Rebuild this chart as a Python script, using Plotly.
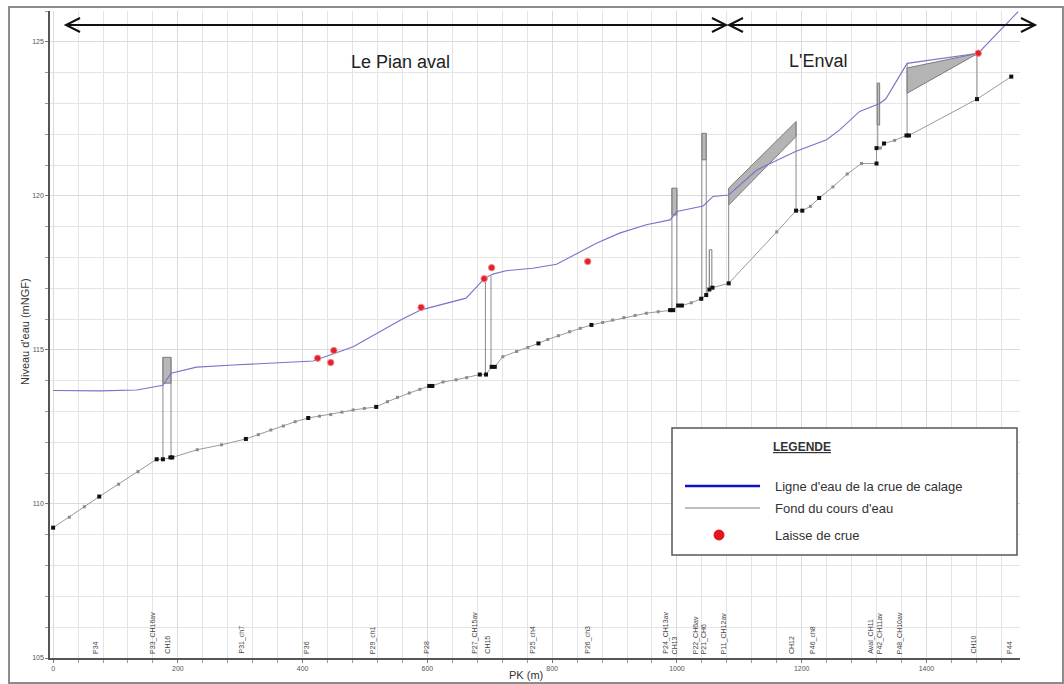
import plotly.graph_objects as go

# ---------------- data ----------------
bed_pk = [0, 26, 50, 74, 105, 136, 166, 176, 188, 191, 231, 270, 309, 329, 349, 369, 388, 409,
          427, 445, 463, 481, 499, 518, 536, 552, 571, 588, 603, 608, 625, 646, 663, 684, 694,
          703, 708, 721, 743, 761, 778, 793, 810, 828, 845, 863, 881, 897, 915, 933, 951, 970,
          989, 994, 1002, 1008, 1023, 1039, 1047, 1052, 1057, 1083, 1160, 1191, 1201, 1214,
          1228, 1250, 1273, 1296, 1320, 1320, 1326, 1332, 1349, 1368, 1372, 1481, 1536]
bed_z = [109.23, 109.57, 109.91, 110.24, 110.64, 111.05, 111.45, 111.45, 111.51, 111.51, 111.76,
         111.92, 112.11, 112.25, 112.40, 112.53, 112.67, 112.79, 112.85, 112.90, 112.98, 113.05,
         113.10, 113.15, 113.32, 113.46, 113.60, 113.72, 113.83, 113.83, 113.96, 114.03, 114.10,
         114.20, 114.20, 114.45, 114.45, 114.78, 114.95, 115.08, 115.21, 115.34, 115.46, 115.59,
         115.70, 115.81, 115.89, 115.97, 116.05, 116.12, 116.19, 116.24, 116.29, 116.29, 116.44,
         116.44, 116.53, 116.66, 116.78, 116.96, 117.02, 117.16, 118.83, 119.52, 119.52, 119.66,
         119.93, 120.29, 120.71, 121.05, 121.05, 121.55, 121.55, 121.70, 121.80, 121.96, 121.96,
         123.14, 123.87]
bed_profile = [1, 0, 0, 1, 0, 0, 1, 1, 1, 1, 0, 0, 1, 0, 0, 0, 0, 1,
               0, 0, 0, 0, 0, 1, 0, 0, 0, 0, 1, 1, 0, 0, 0, 1, 1,
               1, 1, 0, 0, 0, 1, 0, 0, 0, 0, 1, 0, 0, 0, 0, 0, 0,
               1, 1, 1, 1, 0, 1, 1, 1, 1, 1, 0, 1, 1, 0,
               1, 0, 0, 0, 1, 1, 0, 1, 0, 1, 1, 1, 1]

water_pk = [0, 75, 134, 176, 189, 230, 289, 358, 417, 481, 529, 560, 590, 620, 662, 692, 705,
            726, 769, 807, 833, 871, 908, 951, 989, 1000, 1042, 1050, 1058, 1083, 1128, 1191,
            1240, 1261, 1293, 1325, 1335, 1369, 1483, 1547]
water_z = [113.68, 113.67, 113.70, 113.85, 114.24, 114.44, 114.51, 114.57, 114.64, 115.10,
           115.65, 116.00, 116.30, 116.46, 116.68, 117.33, 117.46, 117.57, 117.65, 117.78,
           118.05, 118.46, 118.79, 119.06, 119.22, 119.49, 119.67, 119.81, 119.98, 120.03,
           120.84, 121.45, 121.82, 122.14, 122.74, 123.00, 123.15, 124.30, 124.63, 125.98]

laisse_pk = [424, 445, 450, 590, 691, 703, 857, 1483]
laisse_z = [114.73, 114.59, 114.98, 116.38, 117.31, 117.67, 117.87, 124.63]

# structures: vertical lines (pk, bottom, top)
vert_pk = [176, 189, 693, 702, 992, 1000, 1040, 1047, 1052, 1083, 1191, 1322, 1369, 1481]
vert_lo = [111.45, 111.51, 114.20, 114.45, 116.29, 116.44, 116.66, 116.78, 116.96, 117.16,
           119.52, 121.55, 121.96, 123.14]
vert_hi = [114.76, 114.76, 117.30, 117.40, 120.25, 120.25, 122.03, 122.03, 118.25, 120.25,
           122.41, 123.66, 124.30, 124.65]

# structures: boxes (pk0, pk1, z0, z1)
box_pk0 = [176, 992, 1040, 1052, 1321]
box_pk1 = [189, 1000, 1047, 1056, 1325]
box_z0 = [113.92, 119.38, 121.17, 117.05, 122.30]
box_z1 = [114.76, 120.25, 122.03, 118.25, 123.66]
box_fill = ["#b8b8b8", "#b8b8b8", "#b8b8b8", "#ffffff", "#d0d0d0"]

# structures: sloping bands
band1_pk = [1083, 1191, 1191, 1083]
band1_z = [120.25, 122.41, 121.93, 119.70]
band2_pk = [1369, 1483, 1369]
band2_z = [124.15, 124.63, 123.33]

label_pk = [68, 160, 182, 302, 406, 513, 598, 676, 695, 769, 857, 982, 996, 1031, 1044, 1076,
            1183, 1218, 1310, 1326, 1358, 1474, 1533]
label_txt = ["P34", "P33_CH16av", "CH16", "P31_ch7", "P36", "P29_ch1", "P28", "P27_CH15av",
             "CH15", "P25_ch4", "P26_ch3", "P24_CH13av", "CH13", "P22_CH6av", "P21_CH6",
             "P11_CH12av", "CH12", "P46_ch8", "Aval_CH11", "P42_CH11av", "P48_CH10av",
             "CH10", "P44"]

# ---------------- figure ----------------
FONT = "Arial, Liberation Sans, sans-serif"
fig = go.Figure()

for a, b, c, d, f in zip(box_pk0, box_pk1, box_z0, box_z1, box_fill):
    fig.add_trace(go.Scatter(x=[a, b, b, a, a], y=[c, c, d, d, c], mode="lines",
                             fill="toself", fillcolor=f, line=dict(color="#7a7a7a", width=1),
                             hoverinfo="skip", showlegend=False))
for bx, bz in ((band1_pk, band1_z), (band2_pk, band2_z)):
    fig.add_trace(go.Scatter(x=bx + [bx[0]], y=bz + [bz[0]], mode="lines", fill="toself",
                             fillcolor="#b4b4b4", line=dict(color="#7a7a7a", width=1),
                             hoverinfo="skip", showlegend=False))

vx, vy = [], []
for p, lo, hi in zip(vert_pk, vert_lo, vert_hi):
    vx += [p, p, None]
    vy += [lo, hi, None]
fig.add_trace(go.Scatter(x=vx, y=vy, mode="lines", line=dict(color="#8a8a8a", width=1),
                         hoverinfo="skip", showlegend=False))

fig.add_trace(go.Scatter(x=bed_pk, y=bed_z, mode="lines+markers",
                         line=dict(color="#9a9a9a", width=1),
                         marker=dict(symbol="square", size=3, color="#8c8c8c"),
                         name="Fond du cours d'eau", showlegend=False))
fig.add_trace(go.Scatter(x=[p for p, f in zip(bed_pk, bed_profile) if f],
                         y=[z for z, f in zip(bed_z, bed_profile) if f],
                         mode="markers", marker=dict(symbol="square", size=4, color="#111111"),
                         showlegend=False, hoverinfo="skip"))

fig.add_trace(go.Scatter(x=water_pk, y=water_z, mode="lines",
                         line=dict(color="#7474cc", width=1.1),
                         name="Ligne d'eau de la crue de calage", showlegend=False))

fig.add_trace(go.Scatter(x=laisse_pk, y=laisse_z, mode="markers",
                         marker=dict(size=6.5, color="#e0222c", line=dict(color="#f29090", width=1)),
                         name="Laisse de crue", showlegend=False))

# ---------------- decorations (pixel helpers) ----------------
L, R, T, B = 50, 1020, 11, 658
def px(x):
    return (x - L) / (R - L)
def py(y):
    return (B - y) / (B - T)

shapes = []
shapes.append(dict(type="rect", xref="paper", yref="paper", x0=px(9), x1=px(1063),
                   y0=py(683), y1=py(7), line=dict(color="#8c8c8c", width=2), layer="above"))
def arrow(x0, x1, y):
    path = (f"M{px(x0)},{py(y)} L{px(x1)},{py(y)} "
            f"M{px(x0+14)},{py(y-7)} L{px(x0)},{py(y)} L{px(x0+14)},{py(y+7)} "
            f"M{px(x1-14)},{py(y-7)} L{px(x1)},{py(y)} L{px(x1-14)},{py(y+7)}")
    return dict(type="path", xref="paper", yref="paper", path=path,
                line=dict(color="#111111", width=2), layer="above")
shapes.append(arrow(66, 726, 25))
shapes.append(arrow(729, 1035, 25))
shapes.append(dict(type="rect", xref="paper", yref="paper", x0=px(672), x1=px(1017),
                   y0=py(555), y1=py(428), fillcolor="white",
                   line=dict(color="#555555", width=1.5), layer="above"))
shapes.append(dict(type="line", xref="paper", yref="paper", x0=px(685), x1=px(760),
                   y0=py(486), y1=py(486), line=dict(color="#1010c8", width=2.5), layer="above"))
shapes.append(dict(type="line", xref="paper", yref="paper", x0=px(685), x1=px(760),
                   y0=py(508), y1=py(508), line=dict(color="#a8a8a8", width=1.5), layer="above"))
shapes.append(dict(type="circle", xref="paper", yref="paper", x0=px(714), x1=px(724),
                   y0=py(540), y1=py(530), fillcolor="#e4141e", line=dict(color="#e4141e", width=1),
                   layer="above"))

def note(x, y, text, size, xanchor="center", color="#222", angle=0):
    return dict(xref="paper", yref="paper", x=px(x), y=py(y), text=text, showarrow=False,
                xanchor=xanchor, yanchor="middle", textangle=angle,
                font=dict(family=FONT, size=size, color=color))

annotations = [
    note(400, 62, "Le Pian aval", 18),
    note(818, 61, "L'Enval", 18),
    note(802, 447, "<b><u>LEGENDE</u></b>", 12, color="#333"),
    note(773, 486, "Ligne d'eau de la crue de calage", 13, "left", "#333"),
    note(773, 508, "Fond du cours d'eau", 13, "left", "#333"),
    note(773, 535, "Laisse de crue", 13, "left", "#333"),
    note(526, 675, "PK (m)", 11, color="#333"),
    note(25, 332, "Niveau d'eau (mNGF)", 11, color="#333", angle=-90),
]
for p, t in zip(label_pk, label_txt):
    annotations.append(dict(x=p, y=105, xref="x", yref="y", text=t, textangle=-90,
                            yanchor="bottom", xanchor="center", yshift=2, showarrow=False,
                            font=dict(family=FONT, size=7, color="#444")))

fig.update_layout(
    width=1064, height=684,
    margin=dict(l=L, r=1064 - R, t=T, b=684 - B),
    paper_bgcolor="white", plot_bgcolor="white",
    shapes=shapes, annotations=annotations,
    xaxis=dict(range=[-5, 1550], dtick=200, tick0=0, showgrid=True, gridcolor="#dadada",
               gridwidth=1, zeroline=False, showline=True, linecolor="#555", linewidth=1.5,
               ticks="outside", ticklen=3, tickcolor="#777", automargin=False,
               tickfont=dict(family=FONT, size=7, color="#555"),
               minor=dict(dtick=40, showgrid=True, gridcolor="#e4e4e4", ticks="outside",
                          ticklen=3, tickcolor="#999")),
    yaxis=dict(range=[105, 126], dtick=5, tick0=105, showgrid=True, gridcolor="#dadada",
               zeroline=False, showline=True, linecolor="#555", linewidth=1.5,
               ticks="outside", ticklen=3, tickcolor="#777", automargin=False,
               tickfont=dict(family=FONT, size=7, color="#555"),
               minor=dict(dtick=1, showgrid=True, gridcolor="#e4e4e4", ticks="outside",
                          ticklen=3, tickcolor="#999")),
)

fig.write_html("out.html")
